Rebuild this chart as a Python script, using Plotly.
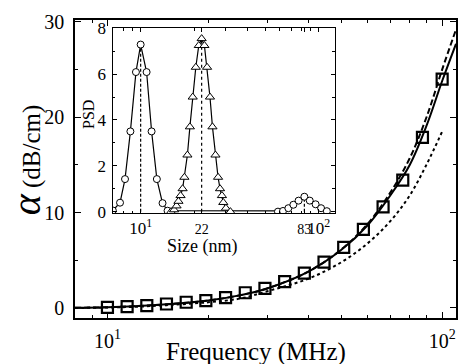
import numpy as np
import plotly.graph_objects as go

# ---------------- main plot data ----------------
meas_freq = [10.0, 11.45, 13.11, 15.01, 17.19, 19.68, 22.54, 25.81, 29.55,
             33.84, 38.75, 44.37, 50.8, 58.17, 66.61, 76.27, 87.33, 100.0]
meas_alpha = [0.07, 0.14, 0.24, 0.42, 0.6, 0.77, 1.08, 1.6, 2.06,
              2.76, 3.65, 4.8, 6.35, 8.25, 10.6, 13.4, 17.9, 24.0]

fit_freq = [8, 10, 12, 15, 20, 25, 30, 40, 50, 60, 70, 80, 90, 100, 110]
fit_solid = [0.02, 0.08, 0.18, 0.38, 0.78, 1.35, 2.05, 3.85, 6.1, 8.7, 11.8, 15.0, 19.2, 23.8, 27.7]
fit_dashed = [0.02, 0.08, 0.18, 0.38, 0.78, 1.35, 2.05, 3.85, 6.15, 8.85, 12.1, 15.7, 20.1, 25.0, 29.2]
dot_freq = [8, 10, 12, 15, 20, 25, 30, 40, 50, 60, 70, 80, 90, 100]
fit_dotted = [0.0, 0.05, 0.12, 0.3, 0.6, 1.0, 1.75, 3.1, 4.8, 6.8, 9.1, 11.8, 15.1, 18.5]

# ---------------- inset data ----------------
circ_size = [6.98, 7.66, 8.17, 8.76, 9.41, 10.0, 10.8, 11.52, 12.33, 13.27, 14.16,
             59, 63, 67.5, 72, 77, 83, 89, 96, 103, 111]
circ_psd = [0.05, 0.39, 1.42, 3.5, 6.09, 7.29, 6.09, 3.5, 1.42, 0.37, 0.04,
            0.0, 0.03, 0.15, 0.3, 0.48, 0.65, 0.48, 0.32, 0.15, 0.02]
tri_size = [14.8, 15.4, 15.9, 16.3, 16.75, 17.2, 17.6, 18.3, 18.9, 19.6, 20.4, 21.2,
            22.0, 22.8, 23.6, 24.5, 25.3, 26.3, 27.2, 27.9, 28.6, 29.1, 30.1, 31.9]
tri_psd = [0.0, 0.08, 0.25, 0.45, 0.7, 1.0, 1.5, 2.47, 3.7, 5.0, 6.3, 7.25,
           7.55, 7.25, 6.3, 5.0, 3.7, 2.47, 1.5, 1.0, 0.7, 0.4, 0.15, 0.0]
peak_size = [10, 22, 83]
peak_psd = [7.29, 7.55, 0.65]
peak_dash = ["3px,2px", "dot", "3px,2px"]

main_xticks = [10, 100]
main_xticktext = ["10<sup>1</sup>", "10<sup>2</sup>"]
main_yticks = [0, 10, 20, 30]
inset_xticks = [10, 22, 83, 100]
inset_xticktext = ["10<sup>1</sup>", "<span style='font-size:14px'>22</span>",
                   "<span style='font-size:14px'>83</span>", "10<sup>2</sup>"]
inset_yticks = [0, 2, 4, 6, 8]

FONT = "Liberation Serif"
W, H = 459, 364
ML, MR, MT, MB = 75, 1, 20, 46
PW, PH = W - ML - MR, H - MT - MB

fig = go.Figure()

# main curves
fig.add_trace(go.Scatter(x=dot_freq, y=fit_dotted, mode="lines",
                         line=dict(color="black", width=2, dash="dot", shape="spline"),
                         xaxis="x", yaxis="y", showlegend=False))
fig.add_trace(go.Scatter(x=fit_freq, y=fit_dashed, mode="lines",
                         line=dict(color="black", width=2, dash="6px,3px", shape="spline"),
                         xaxis="x", yaxis="y", showlegend=False))
fig.add_trace(go.Scatter(x=fit_freq, y=fit_solid, mode="lines",
                         line=dict(color="black", width=2, shape="spline"),
                         xaxis="x", yaxis="y", showlegend=False))
fig.add_trace(go.Scatter(x=meas_freq, y=meas_alpha, mode="markers",
                         marker=dict(symbol="square-open", size=11, color="black",
                                     line=dict(width=2.2, color="black")),
                         xaxis="x", yaxis="y", showlegend=False))

# inset vertical peak lines
for s, p, d in zip(peak_size, peak_psd, peak_dash):
    fig.add_trace(go.Scatter(x=[s, s], y=[0, p], mode="lines",
                             line=dict(color="black", width=1.2, dash=d),
                             xaxis="x2", yaxis="y2", showlegend=False))

fig.add_trace(go.Scatter(x=circ_size, y=circ_psd, mode="lines+markers",
                         line=dict(color="black", width=1.2),
                         marker=dict(symbol="circle", size=7, color="white",
                                     line=dict(width=1, color="black")),
                         xaxis="x2", yaxis="y2", showlegend=False))
fig.add_trace(go.Scatter(x=tri_size, y=tri_psd, mode="lines+markers",
                         line=dict(color="black", width=1.2),
                         marker=dict(symbol="triangle-up", size=8, color="white",
                                     line=dict(width=1, color="black")),
                         xaxis="x2", yaxis="y2", showlegend=False))

axis_common = dict(showline=True, linecolor="black", linewidth=1.5, mirror="ticks",
                   ticks="inside", tickcolor="black", tickwidth=1.2,
                   showgrid=False, zeroline=False, tickangle=0,
                   tickfont=dict(family=FONT, size=20, color="black"))

xi_minor = [8, 9, 20, 30, 40, 50, 60, 70, 80, 90]
fig.update_layout(
    width=W, height=H,
    margin=dict(l=ML, r=MR, t=MT, b=MB),
    paper_bgcolor="white", plot_bgcolor="white",
    font=dict(family=FONT, color="black"),
    xaxis=dict(axis_common, type="log", range=[np.log10(8), np.log10(110)],
               tickmode="array", tickvals=main_xticks, ticktext=main_xticktext,
               ticklen=6, ticklabelstandoff=4,
               minor=dict(ticks="inside", ticklen=3, tickcolor="black",
                          tickvals=[9, 20, 30, 40, 50, 60, 70, 80, 90])),
    yaxis=dict(axis_common, range=[-1.05, 30.2], tickmode="array",
               tickvals=main_yticks, ticklen=6, ticklabelstandoff=5,
               minor=dict(ticks="inside", ticklen=3, tickcolor="black",
                          tickvals=[5, 15, 25])),
    xaxis2=dict(axis_common, type="log", range=[0.842, 2.089],
                domain=[(112.7 - ML) / PW, (336 - ML) / PW], anchor="y2",
                tickmode="array", tickvals=inset_xticks, ticktext=inset_xticktext,
                ticklen=4, tickfont=dict(family=FONT, size=17, color="black"),
                linewidth=1,
                minor=dict(ticks="inside", ticklen=2.5, tickcolor="black",
                           tickvals=xi_minor)),
    yaxis2=dict(axis_common, range=[-0.06, 8.0],
                domain=[(H - MB - 213) / PH, (H - MB - 28.3) / PH], anchor="x2",
                tickmode="array", tickvals=inset_yticks, ticklen=4, linewidth=1,
                tickfont=dict(family=FONT, size=17, color="black"),
                ticklabelstandoff=2,
                minor=dict(ticks="inside", ticklen=2.5, tickcolor="black",
                           tickvals=[1, 3, 5, 7])),
    annotations=[
        dict(text="<i><span style='font-size:40px'>α</span></i> (dB/cm)",
             xref="paper", yref="paper", x=(26 - ML) / PW, y=(H - MB - 160) / PH,
             xanchor="center", yanchor="middle", textangle=-90, showarrow=False,
             font=dict(family=FONT, size=25, color="black")),
        dict(text="Frequency (MHz)", xref="paper", yref="paper",
             x=(257 - ML) / PW, y=(H - MB - 352) / PH,
             xanchor="center", yanchor="middle", showarrow=False,
             font=dict(family=FONT, size=25, color="black")),
        dict(text="PSD", xref="paper", yref="paper",
             x=(88 - ML) / PW, y=(H - MB - 114) / PH,
             xanchor="center", yanchor="middle", textangle=-90, showarrow=False,
             font=dict(family=FONT, size=16, color="black")),
        dict(text="Size (nm)", xref="paper", yref="paper",
             x=(203 - ML) / PW, y=(H - MB - 246) / PH,
             xanchor="center", yanchor="middle", showarrow=False,
             font=dict(family=FONT, size=18, color="black")),
    ],
)

fig.write_html("out.html")
